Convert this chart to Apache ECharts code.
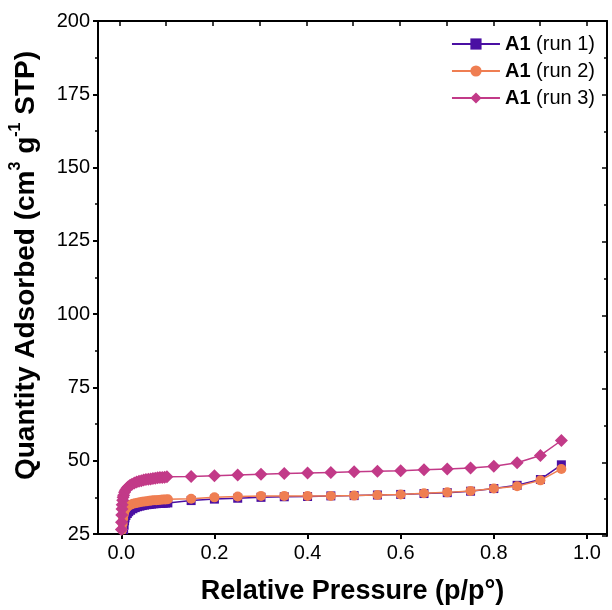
<!DOCTYPE html>
<html>
<head>
<meta charset="utf-8">
<script src="https://cdn.jsdelivr.net/npm/echarts@6/dist/echarts.min.js"></script>
<style>
  html, body { margin: 0; padding: 0; background: #fff; }
  #chart { width: 612px; height: 610px; }
</style>
</head>
<body>
<div id="chart"></div>
<script>
// series names
const seriesNames = ["A1 (run 1)", "A1 (run 2)", "A1 (run 3)"];
const seriesColors = ["#4a0fa3", "#ef7e52", "#c23a88"];

// run 1
const pressure1 = [0.005, 0.006, 0.007, 0.008, 0.01, 0.013, 0.016, 0.02, 0.025, 0.03, 0.035, 0.04, 0.045,
  0.05, 0.055, 0.06, 0.065, 0.07, 0.075, 0.08, 0.085, 0.09, 0.095, 0.1,
  0.15, 0.2, 0.25, 0.3, 0.35, 0.4, 0.45, 0.5, 0.55, 0.6, 0.65, 0.7, 0.75, 0.8, 0.85, 0.9, 0.945];
const quantity1 = [26.5, 28, 29.5, 30.5, 31.3, 32.0, 32.6, 33.1, 33.6, 34.0, 34.3, 34.5, 34.7,
  34.85, 35.0, 35.1, 35.2, 35.3, 35.35, 35.4, 35.45, 35.5, 35.55, 35.6,
  36.4, 36.9, 37.2, 37.5, 37.7, 37.8, 38.0, 38.1, 38.3, 38.5, 38.8, 39.1, 39.6, 40.5, 41.6, 43.6, 48.6];

// run 2
const pressure2 = [0.002, 0.003, 0.004, 0.005, 0.006, 0.008, 0.01, 0.013, 0.016, 0.02, 0.025, 0.03, 0.035,
  0.04, 0.045, 0.05, 0.055, 0.06, 0.065, 0.07, 0.075, 0.08, 0.085, 0.09, 0.095, 0.1,
  0.15, 0.2, 0.25, 0.3, 0.35, 0.4, 0.45, 0.5, 0.55, 0.6, 0.65, 0.7, 0.75, 0.8, 0.85, 0.9, 0.945];
const quantity2 = [26.5, 28.5, 30.2, 31.5, 32.3, 33.2, 33.8, 34.3, 34.7, 35.0, 35.3, 35.5, 35.7,
  35.85, 36.0, 36.1, 36.2, 36.3, 36.4, 36.5, 36.55, 36.6, 36.7, 36.75, 36.8, 36.85,
  37.0, 37.5, 37.8, 38.0, 38.0, 38.0, 38.0, 38.1, 38.3, 38.5, 38.9, 39.2, 39.7, 40.5, 41.3, 43.3, 47.2];

// run 3
const pressure3 = [0.0002, 0.0005, 0.001, 0.0015, 0.002, 0.003, 0.004, 0.005, 0.007, 0.009, 0.012, 0.015,
  0.019, 0.023, 0.028, 0.033, 0.038, 0.043, 0.048, 0.053, 0.058, 0.063, 0.068, 0.073, 0.078, 0.083,
  0.088, 0.093, 0.098,
  0.15, 0.2, 0.25, 0.3, 0.35, 0.4, 0.45, 0.5, 0.55, 0.6, 0.65, 0.7, 0.75, 0.8, 0.85, 0.9, 0.945];
const quantity3 = [26.5, 29, 31.5, 33.5, 35, 36.5, 37.5, 38.2, 39.2, 39.9, 40.6, 41.1,
  41.6, 42.0, 42.4, 42.7, 43.0, 43.2, 43.4, 43.6, 43.7, 43.8, 43.95, 44.05, 44.15, 44.25,
  44.3, 44.4, 44.5,
  44.6, 44.9, 45.1, 45.4, 45.6, 45.8, 46.0, 46.2, 46.4, 46.6, 46.9, 47.2, 47.5, 48.1, 49.3, 51.8, 56.9];

// axes
const xTicks = [0, 0.2, 0.4, 0.6, 0.8, 1.0];
const xMinorTicks = [0, 0.1, 0.2, 0.3, 0.4, 0.5, 0.6, 0.7, 0.8, 0.9, 1.0];
const xRange = [-0.05, 1.043];
const yRange = [25, 200];

const font = "Liberation Sans";
const chart = echarts.init(document.getElementById("chart"));

const pairs = (xs, ys) => xs.map((x, i) => [x, ys[i]]);
const symbols = ["rect", "circle", "diamond"];
const symbolSizes = [9, 10, 13];
const allData = [pairs(pressure1, quantity1), pairs(pressure2, quantity2), pairs(pressure3, quantity3)];

const gridPos = { left: 96, right: 5, top: 21, bottom: 74 };

const option = {
  animation: false,
  grid: [
    Object.assign({}, gridPos),
    Object.assign({}, gridPos),
  ],
  legend: {
    orient: "vertical",
    right: 12,
    top: 29,
    itemWidth: 48,
    itemHeight: 14,
    itemGap: 7,
    textStyle: {
      fontFamily: font,
      color: "#000",
      rich: {
        b: { fontFamily: font, fontSize: 20, fontWeight: "bold", color: "#000" },
        n: { fontFamily: font, fontSize: 20, color: "#000" },
      },
    },
    formatter: (name) => {
      const i = name.indexOf(" ");
      return "{b|" + name.slice(0, i) + "}{n|" + name.slice(i) + "}";
    },
    data: seriesNames,
  },
  xAxis: [
    {
      type: "value",
      gridIndex: 0,
      min: xRange[0],
      max: xRange[1],
      position: "bottom",
      name: "Relative Pressure (p/p°)",
      nameLocation: "middle",
      nameGap: 44,
      nameTextStyle: { fontFamily: font, fontSize: 27, fontWeight: "bold", color: "#000" },
      axisLine: { onZero: false, lineStyle: { color: "#000", width: 2 } },
      axisTick: { inside: false, length: 5, lineStyle: { width: 2 }, customValues: xTicks },
      axisLabel: {
        customValues: xTicks,
        formatter: (v) => v.toFixed(1),
        fontFamily: font, fontSize: 20, color: "#000", margin: 9,
      },
      splitLine: { show: false },
    },
    {
      type: "value",
      gridIndex: 1,
      min: xRange[0],
      max: xRange[1],
      position: "top",
      axisLine: { onZero: false, lineStyle: { color: "#000", width: 2 } },
      axisTick: { inside: true, length: 5, lineStyle: { width: 1.5 }, customValues: xMinorTicks },
      axisLabel: { show: false },
      splitLine: { show: false },
    },
  ],
  yAxis: [
    {
      type: "value",
      gridIndex: 0,
      min: yRange[0],
      max: yRange[1],
      interval: 25,
      position: "left",
      name: "{t|Quantity Adsorbed (cm}{s|3}{t| g}{s|-1}{t| STP)}",
      nameLocation: "middle",
      nameGap: 58,
      nameTextStyle: {
        color: "#000",
        padding: [0, 0, 0, 24],
        rich: {
          t: { fontFamily: font, fontSize: 28, fontWeight: "bold", color: "#000", lineHeight: 32, verticalAlign: "bottom" },
          s: { fontFamily: font, fontSize: 16, fontWeight: "bold", color: "#000", lineHeight: 32, verticalAlign: "top" },
        },
      },
      axisLine: { onZero: false, lineStyle: { color: "#000", width: 2 } },
      axisTick: { inside: false, length: 5, lineStyle: { width: 2 } },
      minorTick: { show: true, splitNumber: 2, length: 3, lineStyle: { color: "#000", width: 1.5 } },
      axisLabel: { fontFamily: font, fontSize: 20, color: "#000", margin: 8 },
      splitLine: { show: false },
    },
    {
      type: "value",
      gridIndex: 1,
      min: yRange[0],
      max: yRange[1],
      interval: 25,
      position: "right",
      axisLine: { onZero: false, lineStyle: { color: "#000", width: 2 } },
      axisTick: { inside: true, length: 5, lineStyle: { width: 1.5 } },
      minorTick: { show: true, splitNumber: 2, length: 3, lineStyle: { color: "#000", width: 1.5 } },
      axisLabel: { show: false },
      splitLine: { show: false },
    },
  ],
  series: seriesNames.map((name, i) => ({
    name: name,
    type: "line",
    xAxisIndex: 0,
    yAxisIndex: 0,
    data: allData[i],
    symbol: symbols[i],
    symbolSize: symbolSizes[i],
    showAllSymbol: true,
    color: seriesColors[i],
    itemStyle: { color: seriesColors[i] },
    lineStyle: { color: seriesColors[i], width: 1.5 },
    z: 2 + i,
  })),
};

chart.setOption(option);
</script>
</body>
</html>
